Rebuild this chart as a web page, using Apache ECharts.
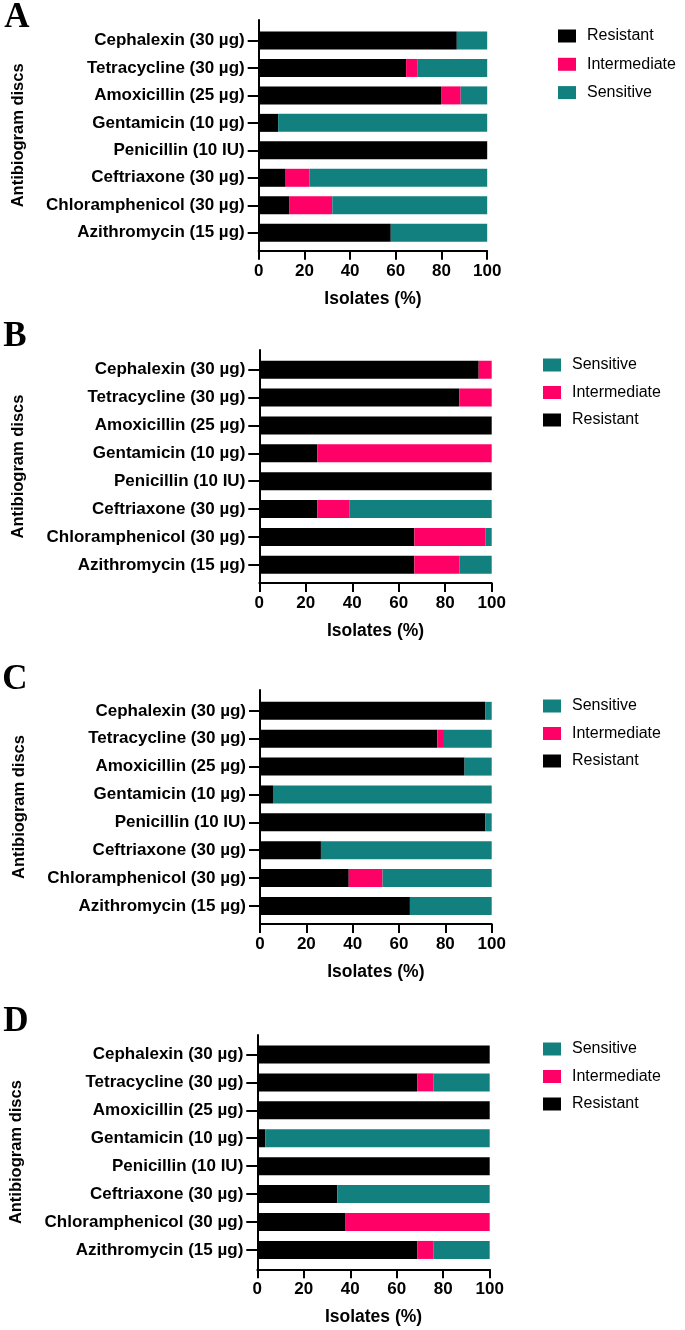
<!DOCTYPE html>
<html>
<head>
<meta charset="utf-8">
<script src="https://cdn.jsdelivr.net/npm/echarts@6/dist/echarts.min.js"></script>
<style>
html,body{margin:0;padding:0;background:#fff;}
#chart{width:685px;height:1330px;}
</style>
</head>
<body>
<div id="chart"></div>
<script>
// ---- data ----
const categories = ['Cephalexin (30 µg)', 'Tetracycline (30 µg)', 'Amoxicillin (25 µg)', 'Gentamicin (10 µg)', 'Penicillin (10 IU)', 'Ceftriaxone (30 µg)', 'Chloramphenicol (30 µg)', 'Azithromycin (15 µg)'];
const xTickValues = [0, 20, 40, 60, 80, 100];
const panelLetters = ['A', 'B', 'C', 'D'];

const resistantA    = [86.7, 64.5, 79.8, 8.5, 100, 11.8, 13.5, 57.8];
const intermediateA = [0, 5.1, 8.6, 0, 0, 10.5, 18.7, 0];
const sensitiveA    = [13.3, 30.4, 11.6, 91.5, 0, 77.7, 67.8, 42.2];

const resistantB    = [94.4, 86.1, 100, 25, 100, 25, 66.7, 66.7];
const intermediateB = [5.6, 13.9, 0, 75, 0, 13.7, 30.7, 19.5];
const sensitiveB    = [0, 0, 0, 0, 0, 61.3, 2.6, 13.8];

const resistantC    = [97.3, 76.5, 88.3, 5.6, 97.3, 26.3, 38.3, 64.7];
const intermediateC = [0, 2.9, 0, 0, 0, 0, 14.6, 0];
const sensitiveC    = [2.7, 20.6, 11.7, 94.4, 2.7, 73.7, 47.1, 35.3];

const resistantD    = [100, 68.8, 100, 3.4, 100, 34.4, 38.0, 68.8];
const intermediateD = [0, 7.1, 0, 0, 0, 0, 62.0, 7.1];
const sensitiveD    = [0, 24.1, 0, 96.6, 0, 65.6, 0, 24.1];

const legendOrderA = ['Resistant', 'Intermediate', 'Sensitive'];
const legendOrderOthers = ['Sensitive', 'Intermediate', 'Resistant'];

// ---- styles / layout ----
const COLORS = { Resistant: '#000000', Intermediate: '#FF0066', Sensitive: '#12807F' };
const SANS = 'Liberation Sans';

const panels = [
  { R: resistantA, I: intermediateA, S: sensitiveA, legend: legendOrderA,
    L: { lx: 17, ly: 18, left: 258.7, width: 228.5, outerTop: 20, axisY: 250.7, innerTop: 26.75, innerH: 219.7, legLeft: 558, legTop: 28, legGap: 12.3 } },
  { R: resistantB, I: intermediateB, S: sensitiveB, legend: legendOrderOthers,
    L: { lx: 15, ly: 337, left: 259.3, width: 232.4, outerTop: 350, axisY: 583, innerTop: 355.8, innerH: 223, legLeft: 543, legTop: 357, legGap: 11.5 } },
  { R: resistantC, I: intermediateC, S: sensitiveC, legend: legendOrderOthers,
    L: { lx: 15, ly: 680, left: 260, width: 231.7, outerTop: 690, axisY: 924, innerTop: 696.9, innerH: 223, legLeft: 543, legTop: 698, legGap: 11.5 } },
  { R: resistantD, I: intermediateD, S: sensitiveD, legend: legendOrderOthers,
    L: { lx: 16, ly: 1022, left: 257.3, width: 232.4, outerTop: 1035, axisY: 1269.3, innerTop: 1040.5, innerH: 223.4, legLeft: 543, legTop: 1041, legGap: 11.5 } }
];

const grid = [], xAxis = [], yAxis = [], series = [], legend = [], graphic = [];

panels.forEach((p, k) => {
  const L = p.L;
  const outer = grid.length;
  grid.push({ left: L.left, width: L.width, top: L.outerTop, height: L.axisY - L.outerTop });
  const inner = grid.length;
  grid.push({ left: L.left, width: L.width, top: L.innerTop, height: L.innerH });

  // outer axes: visible x axis + y axis line + titles
  xAxis.push({
    type: 'value', gridIndex: outer, min: xTickValues[0], max: xTickValues[xTickValues.length - 1],
    interval: xTickValues[1] - xTickValues[0],
    axisLine: { show: true, lineStyle: { color: '#000', width: 2 } },
    axisTick: { show: true, length: 9, lineStyle: { color: '#000', width: 2 } },
    axisLabel: { color: '#000', fontFamily: SANS, fontWeight: 'bold', fontSize: 17, margin: 12 },
    splitLine: { show: false },
    name: 'Isolates (%)', nameLocation: 'middle', nameGap: 39,
    nameTextStyle: { color: '#000', fontFamily: SANS, fontWeight: 'bold', fontSize: 17.5 }
  });
  yAxis.push({
    type: 'value', gridIndex: outer, min: 0, max: 1,
    axisLine: { show: true, onZero: false, lineStyle: { color: '#000', width: 2 } },
    axisTick: { show: false }, axisLabel: { show: false }, splitLine: { show: false },
    name: 'Antibiogram discs', nameLocation: 'middle', nameRotate: 90, nameGap: 232,
    nameTextStyle: { color: '#000', fontFamily: SANS, fontWeight: 'bold', fontSize: 16.5 }
  });

  // inner axes: category bars
  const xi = xAxis.length;
  xAxis.push({ type: 'value', gridIndex: inner, min: xTickValues[0], max: xTickValues[xTickValues.length - 1], show: false });
  const yi = yAxis.length;
  yAxis.push({
    type: 'category', gridIndex: inner, data: categories, inverse: true,
    axisLine: { show: false },
    axisTick: { show: true, alignWithLabel: true, length: 11, lineStyle: { color: '#000', width: 2 } },
    axisLabel: { color: '#000', fontFamily: SANS, fontWeight: 'bold', fontSize: 17, margin: 14 },
    splitLine: { show: false }
  });

  [['Resistant', p.R], ['Intermediate', p.I], ['Sensitive', p.S]].forEach(([name, vals]) => {
    series.push({
      type: 'bar', name, xAxisIndex: xi, yAxisIndex: yi, stack: 'panel' + k,
      data: vals, barWidth: 18, itemStyle: { color: COLORS[name] },
      emphasis: { disabled: true }, animation: false
    });
  });

  legend.push({
    data: p.legend.map(n => ({ name: n, icon: 'rect' })), orient: 'vertical',
    left: L.legLeft, top: L.legTop, padding: 0, itemWidth: 18, itemHeight: 13, itemGap: L.legGap,
    selectedMode: false,
    textStyle: { color: '#000', fontFamily: SANS, fontSize: 16, lineHeight: 16, padding: [0, 0, 0, 6] }
  });

  graphic.push({
    type: 'text', x: L.lx, y: L.ly,
    style: { text: panelLetters[k], font: 'bold 35px "Liberation Serif", "Times New Roman", serif', fill: '#000', textAlign: 'center', textVerticalAlign: 'middle' }
  });
});

const chart = echarts.init(document.getElementById('chart'), null, { renderer: 'canvas' });
chart.setOption({ animation: false, backgroundColor: '#fff', grid, xAxis, yAxis, series, legend, graphic });
</script>
</body>
</html>
